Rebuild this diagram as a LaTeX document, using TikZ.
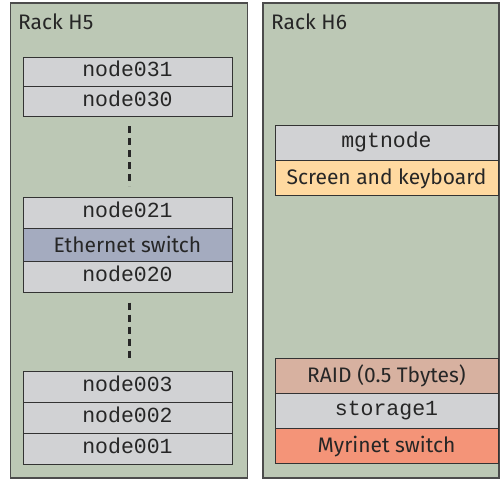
\documentclass[tikz,border=0pt]{standalone}
\usepackage{fontspec}
\setmainfont{Fira Sans}
\setmonofont{Liberation Mono}
\usetikzlibrary{positioning}
\definecolor{rackgreen}{RGB}{188,200,181}
\definecolor{unitgray}{RGB}{209,210,212}
\definecolor{ethblue}{RGB}{164,171,191}
\definecolor{screenpeach}{RGB}{255,217,160}
\definecolor{raidpink}{RGB}{215,177,160}
\definecolor{myrired}{RGB}{244,148,120}

\begin{document}
\begin{tikzpicture}[x=1pt,y=-1pt,node distance=0pt,
	rack/.style={draw=black!70,line width=1.2pt,fill=rackgreen,minimum width=237pt,minimum height=475pt,inner sep=0pt,outer sep=0pt},
	racklabel/.style={anchor=base west,inner sep=0pt,text=black!85,font=\fontsize{21}{21}\selectfont},
	unit/.style={draw=black!80,line width=0.9pt,fill=unitgray,minimum width=209pt,minimum height=31pt,inner sep=0pt,outer sep=0pt,text height=12pt,text depth=2pt,text=black!85,font=\fontsize{21.5}{21.5}\ttfamily},
	wide/.style={unit,minimum width=223pt,minimum height=35pt},
	textbox/.style={font=\fontsize{21}{21}\selectfont,text height=14.5pt,text depth=0pt},
	dots/.style={draw=black!85,line width=2.6pt,dash pattern=on 7pt off 5pt}]
	\useasboundingbox (0,0) rectangle (500,480);

	% racks
	\node[rack]                (h5)  at (129,240.5) {};
	\node[rack,minimum width=236pt] (h6) at (381,240.5) {};
	\node[racklabel]           (t5)  at (18,29)     {Rack H5};
	\node[racklabel]           (t6)  at (271,29)    {Rack H6};

	% rack H5
	\node[unit,minimum height=29.5pt] (n031) at (127.5,71.75) {node031};
	\node[unit,minimum height=29.5pt] (n030) [below =of n031] {node030};
	\node[unit,minimum height=31.5pt] (n021) at (127.5,212.75) {node021};
	\node[unit,textbox,fill=ethblue,minimum height=32.5pt] (eth) [below =of n021] {Ethernet switch};
	\node[unit,minimum height=31.5pt] (n020) [below =of eth]  {node020};
	\node[unit]                (n003) at (127.5,386.5) {node003};
	\node[unit] (n002) [below =of n003] {node002};
	\node[unit] (n001) [below =of n002] {node001};

	% rack H6
	\node[wide]                (mgt)  at (386.5,142.5) {mgtnode};
	\node[wide,textbox,fill=screenpeach] (scr) [below =of mgt] {Screen and keyboard};
	\node[wide,textbox,fill=raidpink] (raid) at (386.5,375.5) {RAID (0.5 Tbytes)};
	\node[wide] (sto) [below =of raid] {storage1};
	\node[wide,textbox,fill=myrired] (myri) [below =of sto] {Myrinet switch};

	% skipped nodes
	\draw[dots] ([xshift=2pt,yshift=-10pt]n030.south) -- ([xshift=2pt,yshift=11pt]n021.north);
	\draw[dots] ([xshift=2pt,yshift=-10pt]n020.south) -- ([xshift=2pt,yshift=11pt]n003.north);
\end{tikzpicture}
\end{document}
